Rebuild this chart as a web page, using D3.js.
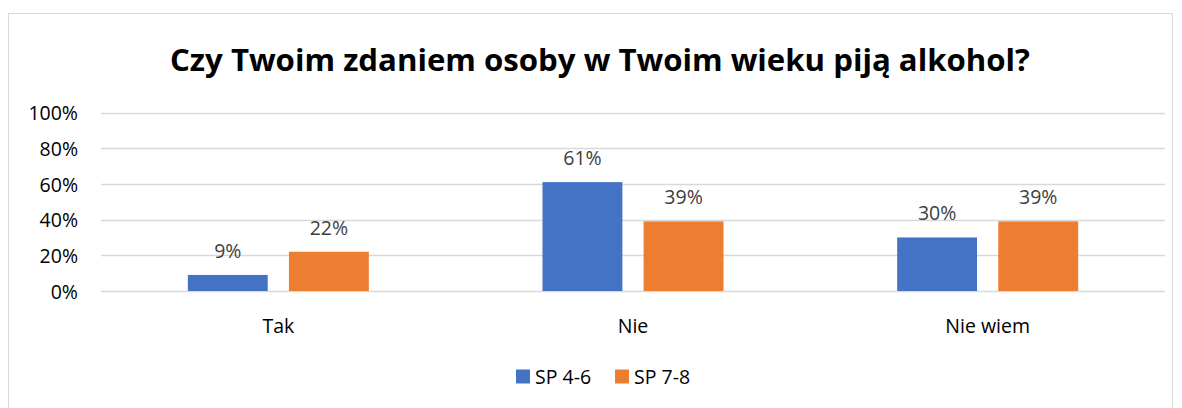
<!DOCTYPE html>
<html>
<head>
<meta charset="utf-8">
<script src="https://cdn.jsdelivr.net/npm/d3@7"></script>
<style>
  body { margin: 0; background: #fff; }
  text { font-family: "Open Sans", "Noto Sans", sans-serif; }
</style>
</head>
<body>
<svg id="chart" width="1182" height="408"></svg>
<script>
const title = 'Czy Twoim zdaniem osoby w Twoim wieku piją alkohol?'
const categories = ['Tak', 'Nie', 'Nie wiem']
const seriesNames = ['SP 4-6', 'SP 7-8']
const sp46 = [0.09, 0.61, 0.30]
const sp78 = [0.22, 0.39, 0.39]
const colors = ['#4472C4', '#ED7D31']
const yTicks = [0, 0.2, 0.4, 0.6, 0.8, 1.0]

const plot = { left: 101, right: 1165, top: 112.5, bottom: 291 }

const svg = d3.select('#chart')

// outer frame
svg.append('rect')
  .attr('x', 8.5).attr('y', 13.5)
  .attr('width', 1164).attr('height', 420)
  .attr('fill', '#fff')
  .attr('stroke', '#d9d9d9')

svg.append('text')
  .attr('x', 600).attr('y', 71)
  .attr('text-anchor', 'middle')
  .attr('font-size', 31)
  .attr('font-weight', 'bold')
  .attr('fill', '#000')
  .attr('textLength', 860)
  .attr('lengthAdjust', 'spacingAndGlyphs')
  .text(title)

const x0 = d3.scaleBand()
  .domain(categories)
  .range([plot.left, plot.right])

const x1 = d3.scaleBand()
  .domain(seriesNames)
  .range([x0.bandwidth() / 2 - 90.5, x0.bandwidth() / 2 + 90.5])
  .paddingInner(0.21)

const y = d3.scaleLinear()
  .domain([0, 1])
  .range([plot.bottom, plot.top])

// gridlines
svg.append('g')
  .selectAll('line')
  .data(yTicks)
  .join('line')
    .attr('x1', plot.left).attr('x2', plot.right)
    .attr('y1', (d) => Math.round(y(d)) + 0.5)
    .attr('y2', (d) => Math.round(y(d)) + 0.5)
    .attr('stroke', '#d9d9d9')
    .attr('stroke-width', 1.5)

// y labels
svg.append('g')
  .selectAll('text')
  .data(yTicks)
  .join('text')
    .attr('x', 78)
    .attr('y', (d) => y(d) + 1)
    .attr('dy', '0.35em')
    .attr('text-anchor', 'end')
    .attr('font-size', 19.5)
    .attr('fill', '#000')
    .text(d3.format('.0%'))

const rows = categories.map((c, i) => ({
  cat: c,
  vals: [sp46[i], sp78[i]].map((v, j) => ({ name: seriesNames[j], v, color: colors[j] })),
}))

const groups = svg.append('g')
  .selectAll('g')
  .data(rows)
  .join('g')
    .attr('transform', (d) => `translate(${x0(d.cat)},0)`)

groups.selectAll('rect')
  .data((d) => d.vals)
  .join('rect')
    .attr('x', (d) => x1(d.name))
    .attr('y', (d) => y(d.v))
    .attr('width', x1.bandwidth())
    .attr('height', (d) => y(0) - y(d.v))
    .attr('fill', (d) => d.color)

groups.selectAll('text.val')
  .data((d) => d.vals)
  .join('text')
    .attr('class', 'val')
    .attr('x', (d) => x1(d.name) + x1.bandwidth() / 2)
    .attr('y', (d) => y(d.v) - 17)
    .attr('text-anchor', 'middle')
    .attr('font-size', 19.5)
    .attr('fill', '#404040')
    .text((d) => d3.format('.0%')(d.v))

// category labels
svg.append('g')
  .selectAll('text')
  .data(categories)
  .join('text')
    .attr('x', (d) => x0(d) + x0.bandwidth() / 2)
    .attr('y', 326)
    .attr('dy', '0.35em')
    .attr('text-anchor', 'middle')
    .attr('font-size', 19.5)
    .attr('fill', '#000')
    .text((d) => d)

// legend
const legend = svg.append('g')
  .selectAll('g')
  .data(seriesNames)
  .join('g')
    .attr('transform', (d, i) => `translate(${516 + i * 99},369.5)`)

legend.append('rect')
  .attr('width', 14).attr('height', 14)
  .attr('fill', (d, i) => colors[i])

legend.append('text')
  .attr('x', 19).attr('y', 7.5)
  .attr('dy', '0.35em')
  .attr('font-size', 19.5)
  .attr('fill', '#000')
  .text((d) => d)
</script>
</body>
</html>
